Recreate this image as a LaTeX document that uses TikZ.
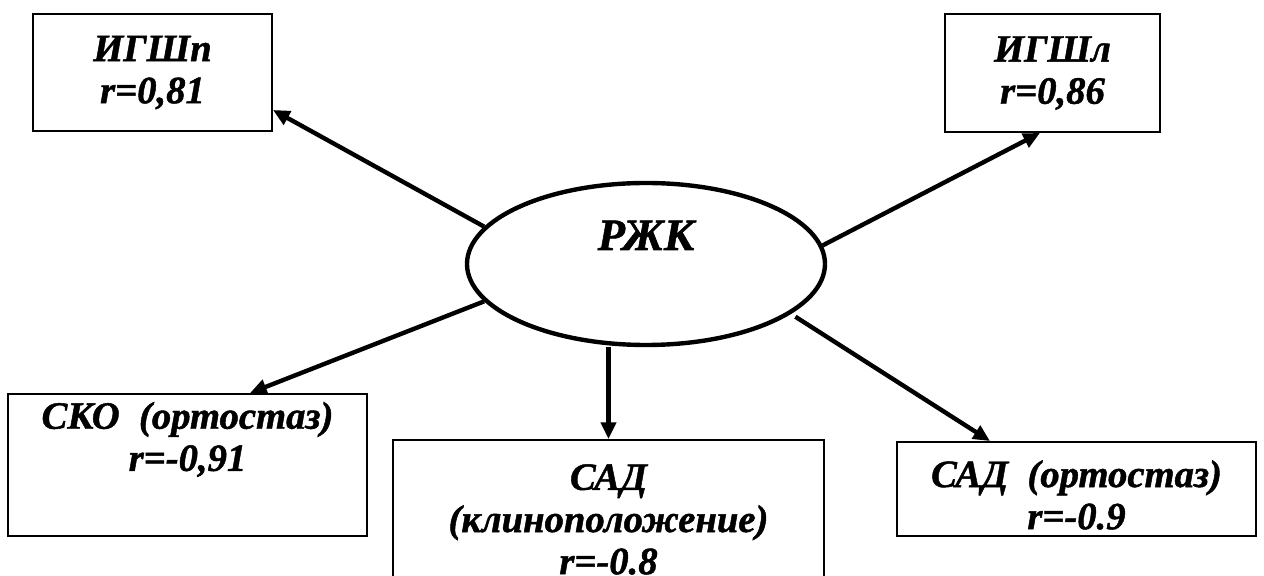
\documentclass[tikz,border=0pt]{standalone}
\usepackage{fontspec}
\setmainfont[BoldItalicFeatures={FakeBold=1.2}]{Liberation Serif}
\usetikzlibrary{shapes.geometric,arrows.meta}

\begin{document}
\begin{tikzpicture}[
            box/.style={draw=black, line width=1.1pt, inner sep=0pt, align=center,
                        font=\fontsize{22}{24}\selectfont\bfseries\itshape},
            hub/.style={ellipse, draw=black, line width=2.5pt, inner sep=0pt,
                        font=\fontsize{25.5}{30}\selectfont\bfseries\itshape},
            link/.style={line width=2.5pt, -{Triangle[length=9.5pt, width=8.5pt]}}
        ]

        % Page frame
        \clip (0,0) rectangle (25.28,11.52);

        % Central factor
        \node[hub, minimum width=7.16cm, minimum height=3.24cm,
              text height=0.6cm, text depth=1.16cm] (rzk) at (12.92, 6.24) {РЖК};

        % Top row
        \node[box, minimum width=4.78cm, minimum height=2.34cm] (igshp) at (3.05, 10.07) {ИГШп\\r=0,81};
        \node[box, minimum width=4.30cm, minimum height=2.36cm] (igshl) at (21.05, 10.06) {ИГШл\\r=0,86};

        % Bottom row
        \node[box, minimum width=7.18cm, minimum height=2.84cm] (sko) at (3.75, 2.22) {СКО\ \ (ортостаз)\\r=-0,91\\[0.3cm]\mbox{}};
        \node[box, minimum width=8.62cm, minimum height=3.18cm] (sadkl) at (12.17, 1.13) {САД\\(клиноположение)\\r=-0.8};
        \node[box, minimum width=7.18cm, minimum height=1.88cm,
              path picture={\node[box, draw=none] at ([yshift=-0.12cm]path picture bounding box.center)
                {САД\ \ (ортостаз)\\r=-0.9};}] (sadort) at (21.53, 1.74) {};

        % Links from the centre
        \draw[link] (rzk.167) -- ([yshift=-0.75cm]igshp.east);
        \draw[link] (rzk.6) -- ([xshift=-0.25cm]igshl.south);
        \draw[link] (rzk.193) -- ([xshift=1.25cm]sko.north);
        \draw[link] (rzk.south -| sadkl.north) -- (sadkl.north);
        \draw[link, shorten <=3pt] (rzk.-19) -- ([xshift=-1.73cm]sadort.north);

    \end{tikzpicture}
\end{document}
